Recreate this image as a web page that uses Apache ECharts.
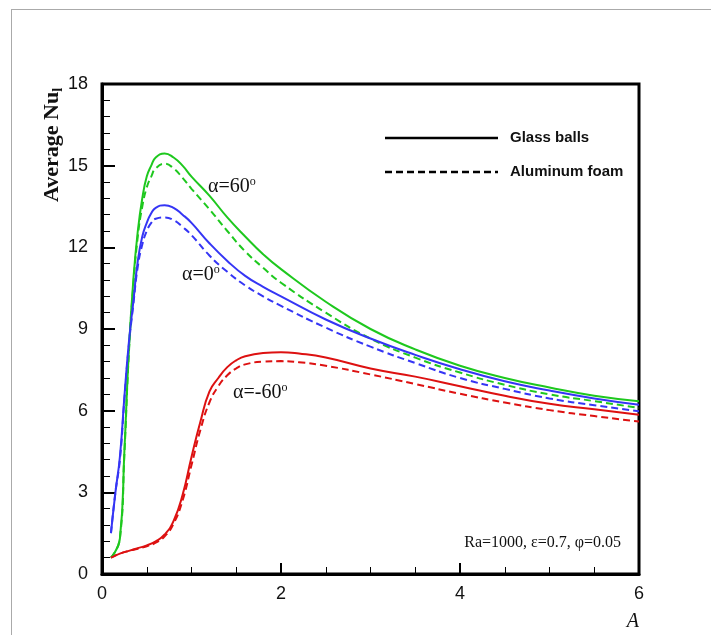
<!DOCTYPE html>
<html>
<head>
<meta charset="utf-8">
<script src="https://cdn.jsdelivr.net/npm/echarts@6/dist/echarts.min.js"></script>
<style>
  html, body { margin: 0; padding: 0; background: #fff; }
  #chart { width: 711px; height: 635px; }
</style>
</head>
<body>
<div id="chart"></div>
<script>
// Aspect ratio A (x) and average Nusselt number (y) for three inclination angles
const aGreen = [0.1, 0.2, 0.25, 0.3, 0.35, 0.4, 0.45, 0.5, 0.55, 0.6, 0.7, 0.8, 0.9, 1.0, 1.2, 1.4, 1.6, 1.8, 2.0, 2.5, 3.0, 3.5, 4.0, 4.5, 5.0, 5.5, 6.0];
const nuGreenGlass = [0.6, 1.3, 4.5, 8.2, 10.8, 12.6, 13.8, 14.6, 15.0, 15.3, 15.45, 15.3, 15.0, 14.6, 13.9, 13.1, 12.4, 11.75, 11.2, 10.0, 9.0, 8.25, 7.65, 7.2, 6.85, 6.55, 6.35];
const nuGreenFoam  = [0.6, 1.3, 4.4, 8.1, 10.6, 12.4, 13.5, 14.2, 14.6, 14.9, 15.07, 14.9, 14.55, 14.15, 13.4, 12.6, 11.85, 11.25, 10.7, 9.6, 8.65, 7.95, 7.4, 6.95, 6.6, 6.35, 6.1];

const aBlue = [0.1, 0.15, 0.2, 0.25, 0.3, 0.35, 0.4, 0.45, 0.5, 0.55, 0.6, 0.7, 0.8, 0.9, 1.0, 1.2, 1.4, 1.6, 1.8, 2.0, 2.5, 3.0, 3.5, 4.0, 4.5, 5.0, 5.5, 6.0];
const nuBlueGlass = [1.5, 3.0, 4.3, 6.5, 8.5, 10.0, 11.5, 12.4, 12.9, 13.25, 13.45, 13.55, 13.45, 13.2, 12.9, 12.15, 11.5, 10.95, 10.55, 10.2, 9.35, 8.65, 8.05, 7.52, 7.08, 6.74, 6.45, 6.22];
const nuBlueFoam  = [1.5, 3.0, 4.2, 6.4, 8.4, 9.9, 11.3, 12.1, 12.6, 12.9, 13.05, 13.1, 13.0, 12.75, 12.45, 11.7, 11.1, 10.6, 10.2, 9.85, 9.05, 8.35, 7.75, 7.2, 6.8, 6.45, 6.2, 5.98];

const aRed = [0.1, 0.2, 0.3, 0.4, 0.5, 0.6, 0.7, 0.8, 0.9, 1.0, 1.1, 1.2, 1.3, 1.4, 1.5, 1.6, 1.8, 2.0, 2.2, 2.5, 3.0, 3.5, 4.0, 4.5, 5.0, 5.5, 6.0];
const nuRedGlass = [0.6, 0.75, 0.85, 0.95, 1.05, 1.2, 1.45, 1.95, 2.9, 4.3, 5.6, 6.7, 7.2, 7.6, 7.85, 8.0, 8.12, 8.15, 8.1, 7.95, 7.55, 7.25, 6.9, 6.55, 6.25, 6.05, 5.85];
const nuRedFoam  = [0.6, 0.75, 0.85, 0.93, 1.02, 1.15, 1.38, 1.85, 2.7, 4.0, 5.3, 6.3, 6.9, 7.3, 7.55, 7.7, 7.8, 7.82, 7.78, 7.65, 7.33, 6.98, 6.62, 6.3, 6.02, 5.8, 5.6];

const xTicks = [0, 2, 4, 6];
const yTicks = [0, 3, 6, 9, 12, 15, 18];

const legendNames = ['Glass balls', 'Aluminum foam'];
const curveLabels = ['60', '0', '-60'];
const paramText = 'Ra=1000, \u03b5=0.7, \u03c6=0.05';

const GREEN = '#1ec81e', BLUE = '#3535f5', RED = '#dd1111';
const DASH = [7, 4];

function pairs(xs, ys) { return xs.map((x, i) => [x, ys[i]]); }

function curve(name, xs, ys, color, dashed) {
  return {
    name: name,
    type: 'line',
    data: pairs(xs, ys),
    smooth: 0.5,
    showSymbol: false,
    symbol: 'none',
    silent: true,
    lineStyle: { color: color, width: 2, type: dashed ? DASH : 'solid' },
    z: dashed ? 3 : 4
  };
}

const serif = '"Liberation Serif", "Times New Roman", serif';
const sans = '"Liberation Sans", Arial, sans-serif';

function alphaLabel(val, x, y) {
  return {
    type: 'text', x: x, y: y,
    style: {
      text: '{m|\u03b1=' + val + '}{sup|o}',
      fill: '#111',
      verticalAlign: 'middle',
      rich: {
        m: { fontSize: 20, fontFamily: serif, lineHeight: 22, fill: '#111' },
        sup: { fontSize: 12, fontFamily: serif, lineHeight: 12, verticalAlign: 'top', fill: '#111' }
      }
    }
  };
}

const chart = echarts.init(document.getElementById('chart'), null, { renderer: 'canvas' });

chart.setOption({
  animation: false,
  backgroundColor: '#fff',
  grid: { left: 102, top: 84, right: 72, bottom: 61, show: true, borderColor: '#000', borderWidth: 3, backgroundColor: 'transparent' },
  xAxis: {
    type: 'value', min: 0, max: 6, interval: 2,
    axisLine: { show: true, lineStyle: { color: '#000', width: 3 } },
    axisTick: { show: true, inside: true, length: 11, lineStyle: { color: '#000', width: 2 } },
    minorTick: { show: true, splitNumber: 4, length: 7, lineStyle: { color: '#000', width: 1 } },
    splitLine: { show: false },
    axisLabel: { margin: 11, fontSize: 18, fontFamily: sans, color: '#111',
      formatter: v => xTicks.includes(v) ? String(v) : '' }
  },
  yAxis: {
    type: 'value', min: 0, max: 18, interval: 3,
    axisLine: { show: true, lineStyle: { color: '#000', width: 3 } },
    axisTick: { show: true, inside: true, length: 13, lineStyle: { color: '#000', width: 2 } },
    minorTick: { show: true, splitNumber: 5, length: 8, lineStyle: { color: '#000', width: 1 } },
    splitLine: { show: false },
    axisLabel: { margin: 14, fontSize: 18, fontFamily: sans, color: '#111',
      formatter: v => yTicks.includes(v) ? String(v) : '' }
  },
  series: [
    curve('\u03b1=60 glass', aGreen, nuGreenGlass, GREEN, false),
    curve('\u03b1=60 foam', aGreen, nuGreenFoam, GREEN, true),
    curve('\u03b1=0 glass', aBlue, nuBlueGlass, BLUE, false),
    curve('\u03b1=0 foam', aBlue, nuBlueFoam, BLUE, true),
    curve('\u03b1=-60 glass', aRed, nuRedGlass, RED, false),
    curve('\u03b1=-60 foam', aRed, nuRedFoam, RED, true)
  ],
  graphic: [
    // page frame
    { type: 'line', shape: { x1: 11, y1: 9.5, x2: 711, y2: 9.5 }, style: { stroke: '#aaa', lineWidth: 1 }, silent: true },
    { type: 'line', shape: { x1: 11.5, y1: 9, x2: 11.5, y2: 635 }, style: { stroke: '#aaa', lineWidth: 1 }, silent: true },
    // y-axis title
    {
      type: 'text', x: 52, y: 145, rotation: Math.PI / 2,
      style: {
        text: '{m|Average Nu}{sub|l}',
        fill: '#111',
        align: 'center', verticalAlign: 'middle',
        rich: {
          m: { fontSize: 22, fontFamily: serif, fontWeight: 'bold', lineHeight: 26, fill: '#111' },
          sub: { fontSize: 14, fontFamily: serif, fontWeight: 'bold', lineHeight: 14, verticalAlign: 'bottom', fill: '#111' }
        }
      }
    },
    // x-axis title
    { type: 'text', x: 639, y: 622, style: { text: 'A', font: 'italic 20px ' + serif, fill: '#111', align: 'right', verticalAlign: 'middle' } },
    // legend
    { type: 'line', shape: { x1: 385, y1: 138, x2: 498, y2: 138 }, style: { stroke: '#000', lineWidth: 2.5 } },
    { type: 'text', x: 510, y: 138, style: { text: legendNames[0], font: 'bold 15px ' + sans, fill: '#111', verticalAlign: 'middle' } },
    { type: 'line', shape: { x1: 385, y1: 172, x2: 498, y2: 172 }, style: { stroke: '#000', lineWidth: 2.5, lineDash: DASH } },
    { type: 'text', x: 510, y: 172, style: { text: legendNames[1], font: 'bold 15px ' + sans, fill: '#111', verticalAlign: 'middle' } },
    // curve annotations
    alphaLabel(curveLabels[0], 208, 187),
    alphaLabel(curveLabels[1], 182, 275),
    alphaLabel(curveLabels[2], 233, 393),
    // parameters
    { type: 'text', x: 621, y: 543, style: { text: paramText, font: '16px ' + serif, fill: '#111', align: 'right', verticalAlign: 'middle' } }
  ]
});
</script>
</body>
</html>
